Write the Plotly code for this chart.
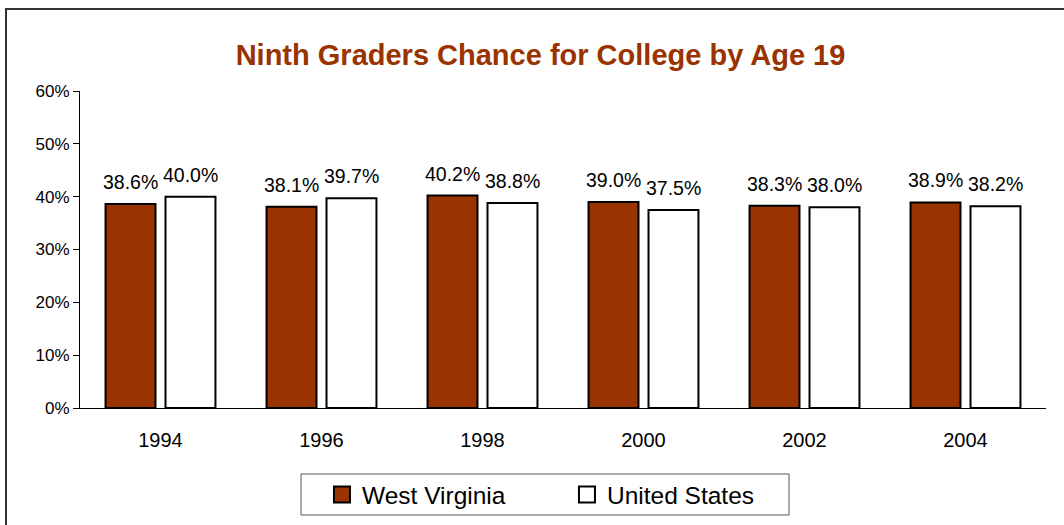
import plotly.graph_objects as go

years = ["1994", "1996", "1998", "2000", "2002", "2004"]
wv = [38.6, 38.1, 40.2, 39.0, 38.3, 38.9]
us = [40.0, 39.7, 38.8, 37.5, 38.0, 38.2]
y_ticks = [0, 10, 20, 30, 40, 50, 60]

FONT = "Liberation Sans, Arial, sans-serif"
WV_COLOR = "#993300"

fig = go.Figure()
fig.add_trace(go.Bar(name="West Virginia", x=years, y=wv, showlegend=False,
                     marker=dict(color=WV_COLOR, line=dict(color="black", width=2))))
fig.add_trace(go.Bar(name="United States", x=years, y=us, showlegend=False,
                     marker=dict(color="white", line=dict(color="black", width=2))))
# legend entries with larger square symbols
fig.add_trace(go.Scatter(name="West Virginia", x=[None], y=[None], mode="markers",
                         marker=dict(symbol="square", size=17, color=WV_COLOR,
                                     line=dict(color="black", width=2))))
fig.add_trace(go.Scatter(name="United States", x=[None], y=[None], mode="markers",
                         marker=dict(symbol="square", size=17, color="white",
                                     line=dict(color="black", width=2))))

annotations = []
for i, (a, b) in enumerate(zip(wv, us)):
    annotations.append(dict(x=i, y=a, text=f"{a:.1f}%", xshift=-30, yshift=9,
                            yanchor="bottom", showarrow=False,
                            font=dict(size=19.5, color="black", family=FONT)))
    annotations.append(dict(x=i, y=b, text=f"{b:.1f}%", xshift=30, yshift=9,
                            yanchor="bottom", showarrow=False,
                            font=dict(size=19.5, color="black", family=FONT)))

fig.update_layout(
    width=1064, height=525,
    margin=dict(l=80, r=18, t=91, b=117),
    paper_bgcolor="white", plot_bgcolor="white",
    font=dict(family=FONT, color="black"),
    title=dict(text="<b>Ninth Graders Chance for College by Age 19</b>",
               x=0.508, xanchor="center", y=0.895, yanchor="middle",
               font=dict(size=29, color=WV_COLOR, family=FONT)),
    barmode="group", bargap=0.255, bargroupgap=0.167,
    xaxis=dict(type="category", range=[-0.5, 5.5], showline=True, linecolor="black",
               linewidth=1, ticks="", tickfont=dict(size=20), showgrid=False,
               ticklabelstandoff=14),
    yaxis=dict(range=[0, 60], tickvals=y_ticks,
               ticktext=[f"{v}%" for v in y_ticks],
               showline=True, linecolor="black", linewidth=1,
               ticks="outside", ticklen=6, tickcolor="black",
               showgrid=False, zeroline=False, tickfont=dict(size=17)),
    legend=dict(orientation="h", xref="container", yref="container",
                x=0.3026, xanchor="left", y=0.058, yanchor="middle",
                borderwidth=0, bgcolor="rgba(0,0,0,0)",
                font=dict(size=24.5), entrywidth=200, itemsizing="trace"),
    annotations=annotations,
    shapes=[dict(type="rect", xref="paper", yref="paper",
                 x0=-0.0766, y0=-0.6, x1=1.2, y1=1.2587,
                 line=dict(color="#333", width=2), layer="below"),
            dict(type="rect", xref="paper", yref="paper",
                 x0=0.2288, y0=-0.3375, x1=0.734, y1=-0.2082,
                 line=dict(color="#555", width=1), layer="below")],
)

fig.write_html("out.html", config={"displayModeBar": False},
               post_script="document.body.style.margin='0';")
